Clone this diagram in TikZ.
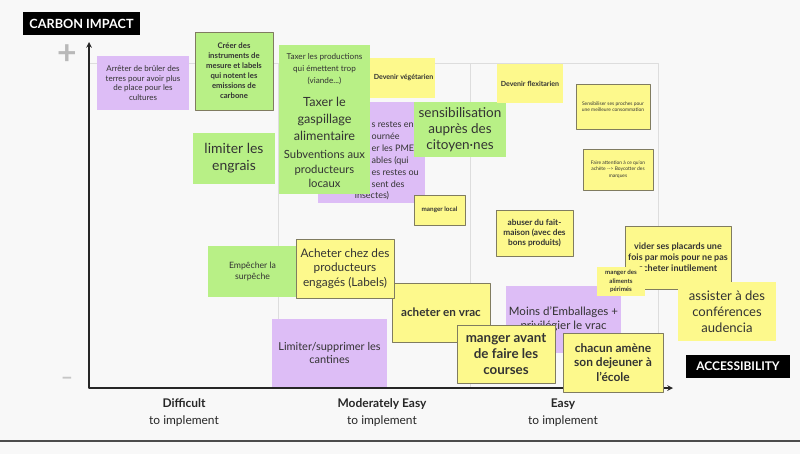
\documentclass[tikz,border=0pt]{standalone}
\usepackage{fontspec}
\setmainfont{Lato}
\definecolor{notepurple}{RGB}{221,189,246}
\definecolor{notegreen}{RGB}{184,240,134}
\definecolor{noteyellow}{RGB}{253,249,140}
\definecolor{noteedge}{RGB}{128,124,96}
\definecolor{gridgray}{RGB}{221,221,221}
\definecolor{bggray}{RGB}{248,248,248}
\newcommand{\fsz}[2]{\fontsize{#1}{#2}\selectfont}

\begin{document}
\begin{tikzpicture}[x=0.025cm, y=-0.025cm, >=stealth, line join=round,
	note/.style={inner sep=1pt, align=center, text=black!80},
	wh/.style 2 args={minimum width=#1*0.025cm, minimum height=#2*0.025cm},
	pnote/.style={note, fill=notepurple},
	gnote/.style={note, fill=notegreen},
	ynote/.style={note, fill=noteyellow},
	edged/.style={draw=noteedge, line width=0.6pt},
	axislabel/.style={fill=black, text=white, inner sep=0pt}]
	
	% fond et cadre
	\fill[bggray] (0,0) rectangle (800,454);
	\useasboundingbox (0,0) rectangle (800,454);
	\draw[black!70, line width=1.5pt] (0,441) -- (800,441);
	
	% grille des trois colonnes
	\draw[gridgray, line width=0.6pt] (89,63) rectangle (658,388);
	\draw[gridgray, line width=0.6pt] (278,63) -- (278,388);
	\draw[gridgray, line width=0.6pt] (470,63) -- (470,388);
	
	% axes
	\coordinate (origin) at (89,388);
	\coordinate (ytip) at (89,42);
	\coordinate (xtip) at (673,388);
	\draw[<->, black!85, line width=0.8pt] (ytip) -- (origin) -- (xtip);
	
	\node[axislabel, wh={117}{23}, font=\fsz{9}{10}\bfseries] (carbon) at (81.5,23.5) {CARBON IMPACT};
	\node[axislabel, wh={104}{23}, font=\fsz{8.5}{10}\bfseries] (access) at (738,366.5) {ACCESSIBILITY};
	\node[text=gray!55, font=\fsz{24}{24}\bfseries] (plus) at (67,55) {+};
	\node[text=gray!45, font=\fsz{15}{15}\bfseries] (minus) at (67,381) {–};
	
	% colonne "Difficult"
	\node[pnote, wh={92}{54}, font=\fsz{5.7}{6.9}] (arreter) at (143,83)
	{Arrêter de brûler des\\terres pour avoir plus\\de place pour les\\cultures};
	\node[gnote, edged, wh={78}{78}, font=\fsz{5.5}{7.1}\bfseries] (creer) at (234,71)
	{Créer des\\instruments de\\mesure et labels\\qui notent les\\emissions de\\carbone};
	
	% notes du milieu (empilees, la note violette est en partie cachee)
	\node[ynote, wh={72}{40}, font=\fsz{5}{6}\bfseries] (vegetarien) at (398,78) {\hspace*{8pt}Devenir végétarien};
	\node[pnote, wh={107}{101}] (restes) at (371.5,152.5) {};
	\node[note, anchor=west, align=left, font=\fsz{6.4}{8.4}] (restestxt) at (370,154.5)
	{s restes en\\ournée\\er les PME\\ables (qui\\es restes ou\\sent des};
	\node[note, font=\fsz{6.4}{8.4}] (insectes) at (372,196) {insectes)};
	\node[gnote, wh={91}{48}, font=\fsz{5.8}{8.3}] (taxprod) at (324.5,69)
	{Taxer les productions\\qui émettent trop\\(viande...)};
	\node[gnote, wh={91}{52}, font=\fsz{9}{12}] (taxgasp) at (324.5,119)
	{Taxer le\\gaspillage\\alimentaire};
	\node[gnote, wh={91}{50}, font=\fsz{8}{10.2}] (subv) at (324.5,169)
	{Subventions aux\\producteurs\\locaux};
	\node[gnote, wh={92}{55}, font=\fsz{9.6}{11.6}] (sensib) at (460,129.5)
	{sensibilisation\\auprès des\\citoyen·nes};
	\node[gnote, wh={82}{51}, font=\fsz{9.9}{11.9}] (engrais) at (234,158.5)
	{limiter les\\engrais};
	\node[ynote, edged, wh={51}{30}, font=\fsz{4.5}{5.5}\bfseries] (local) at (439.5,210) {manger local};
	
	% colonne "Easy"
	\node[ynote, wh={66}{39}, font=\fsz{5}{6}\bfseries] (flexi) at (530,83.5) {Devenir flexitarien};
	\node[ynote, edged, wh={74}{45}, font=\fsz{3.5}{4.6}] (proches) at (613,106.5)
	{Sensibiliser ses proches pour\\une meilleure consommation};
	\node[ynote, edged, wh={70}{41}, font=\fsz{3.5}{4.8}] (attention) at (618,169.5)
	{Faire attention à ce qu'on\\achète -{}-> Boycotter des\\marques};
	\node[ynote, edged, wh={77}{46}, font=\fsz{5.9}{7.1}\bfseries] (abuser) at (534.5,233)
	{abuser du fait-\\maison (avec des\\bons produits)};
	
	% bas du graphique
	\node[gnote, wh={89}{51}, font=\fsz{6.2}{7.6}] (empecher) at (252.5,271.5)
	{Empêcher la\\surpêche};
	\node[ynote, edged, wh={98}{59}, font=\fsz{8.3}{10}\bfseries] (vrac) at (441,312.5) {acheter en vrac};
	\node[ynote, edged, wh={98}{59}, font=\fsz{8.4}{10.4}] (acheter) at (345,268.5)
	{Acheter chez des\\producteurs\\engagés (Labels)};
	\node[pnote, wh={115}{68}, font=\fsz{7.8}{9.5}] (cantines) at (329.5,353)
	{Limiter/supprimer les\\cantines};
	\node[pnote, wh={115}{67}, font=\fsz{8.2}{10}] (moins) at (563.5,319.5)
	{Moins d'Emballages +\\privilégier le vrac};
	\node[ynote, edged, wh={98}{58}, font=\fsz{9.5}{11.6}\bfseries] (avant) at (506,354)
	{manger avant\\de faire les\\courses};
	\node[ynote, edged, wh={100}{59}, font=\fsz{8.5}{10.3}\bfseries] (chacun) at (613,362.5)
	{chacun amène\\son dejeuner à\\l'école};
	\node[ynote, edged, wh={106}{63}, font=\fsz{6.4}{7.7}\bfseries] (vider) at (678,257.5)
	{vider ses placards une\\fois par mois pour ne pas\\acheter inutilement};
	\node[ynote, wh={48}{29}, font=\fsz{4.4}{6}\bfseries] (perimes) at (621,281.5)
	{manger des\\aliments\\périmés};
	\node[ynote, wh={98}{59}, font=\fsz{9.3}{11.4}] (assister) at (727,311.5)
	{assister à des\\conférences\\audencia};
	
	% legendes de l'axe horizontal
	\node[align=center, text=black!85, font=\fsz{8.5}{12}] (difficult) at (184,412.5) {\textbf{Difficult}\\to implement};
	\node[align=center, text=black!85, font=\fsz{8.5}{12}] (moderate) at (382,412.5) {\textbf{Moderately Easy}\\to implement};
	\node[align=center, text=black!85, font=\fsz{8.5}{12}] (easy) at (563,412.5) {\textbf{Easy}\\to implement};
\end{tikzpicture}
\end{document}
